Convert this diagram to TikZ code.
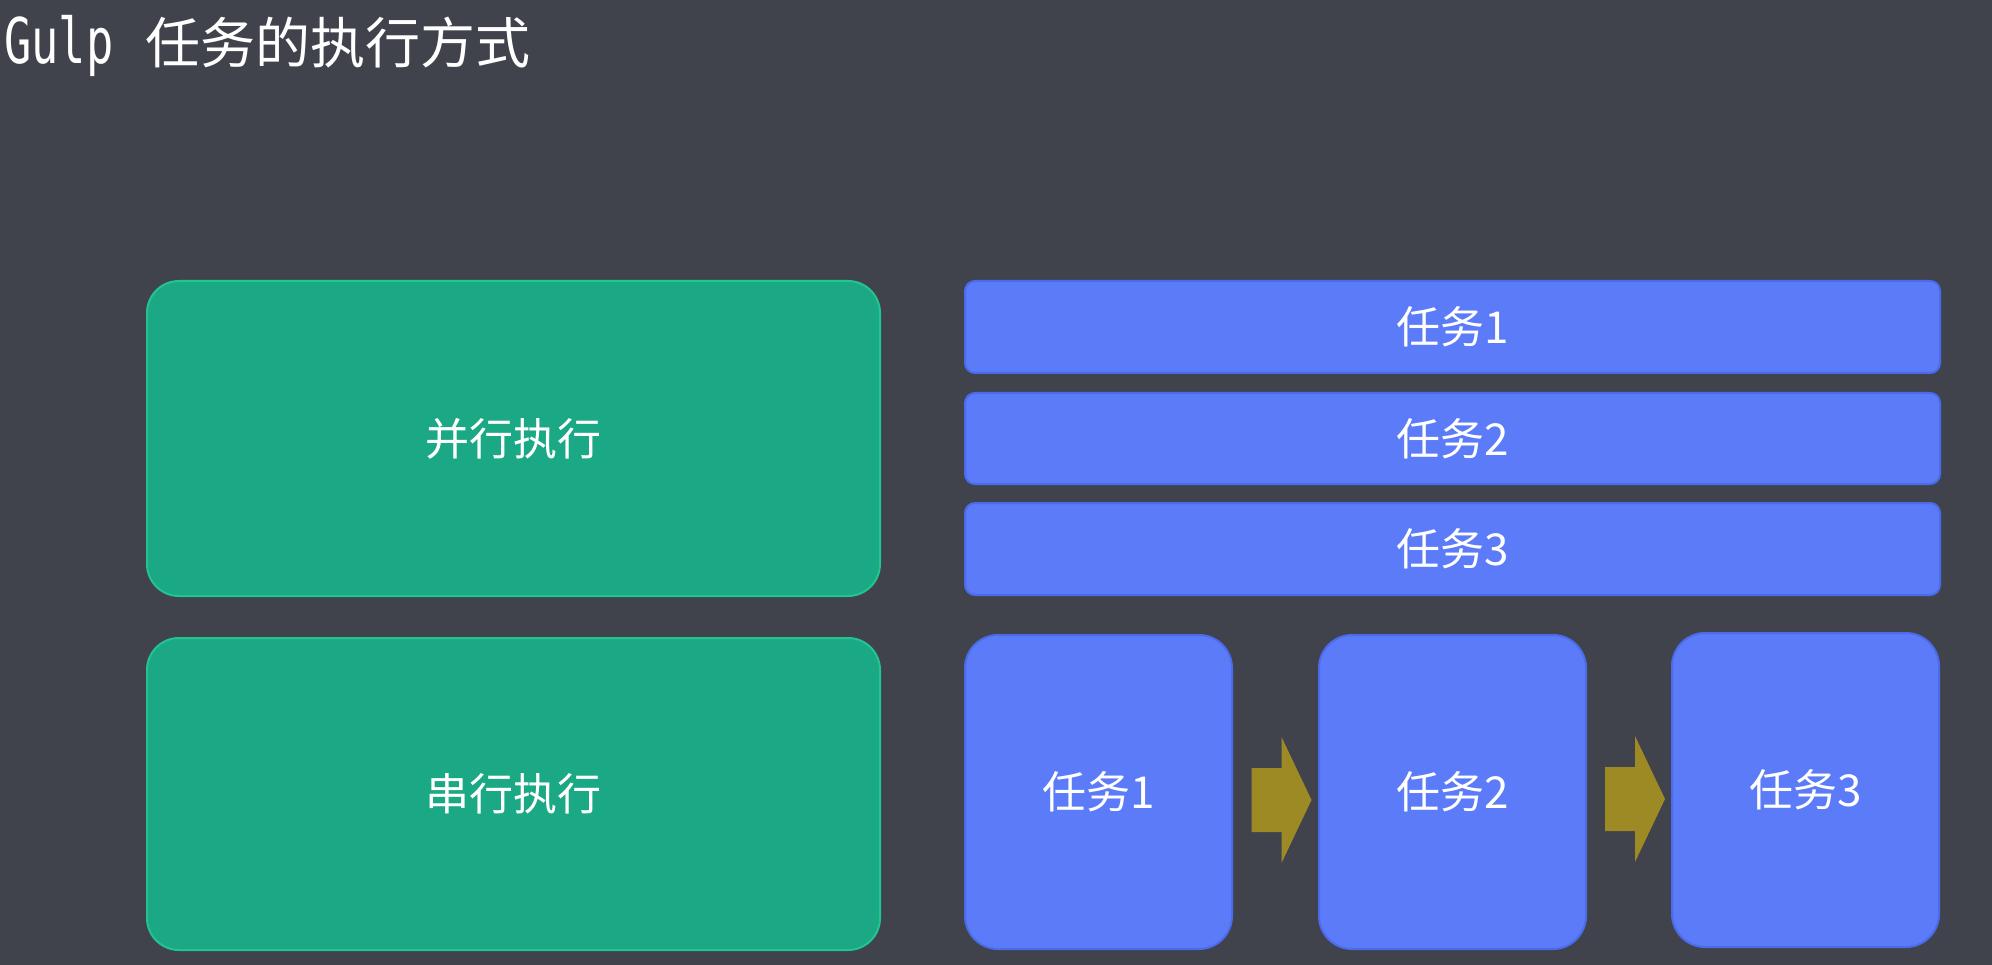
\documentclass[tikz,border=0pt]{standalone}
\usepackage{fontspec}
\usetikzlibrary{calc}
\setmainfont{Noto Sans CJK SC}
\newfontfamily\cjkfont{Noto Sans CJK SC}
\newfontfamily\titlemono[FakeStretch=0.72]{DejaVu Sans Mono}
\definecolor{bgc}{HTML}{40434C}
\definecolor{greenfill}{HTML}{1BA884}
\definecolor{greenline}{HTML}{22C490}
\definecolor{bluefill}{HTML}{5B7BF9}
\definecolor{blueline}{HTML}{4C6BEB}
\definecolor{arrowc}{HTML}{9E8A24}
\tikzset{
  box/.style={anchor=north west, inner sep=0pt, outer sep=0pt, line width=2pt, text=white, font=\cjkfont\fontsize{44}{50}\selectfont},
  greenbox/.style={box, fill=greenfill, draw=greenline, rounded corners=32pt},
  bar/.style={box, fill=bluefill, draw=blueline, rounded corners=10pt, minimum width=975pt, minimum height=92pt},
  sbox/.style={box, fill=bluefill, draw=blueline, rounded corners=33pt, minimum width=267pt, minimum height=314pt},
}
\begin{document}
\begin{tikzpicture}[x=1pt,y=-1pt]
\fill[bgc] (0,0) rectangle (1992,965);
\useasboundingbox (0,0) rectangle (1992,965);
\node[anchor=west, inner sep=0pt, text=white] (title) at (4,46)
  {{\titlemono\fontsize{63}{70}\selectfont Gulp}\hspace{32pt}{\cjkfont\fontsize{55}{60}\selectfont 任务的执行方式}};
\node[greenbox, minimum width=733pt, minimum height=315pt] (par) at (147,281) {并行执行};
\node[greenbox, minimum width=733pt, minimum height=312pt] (ser) at (147,638) {串行执行};
\node[bar] (p1) at (965,281) {任务1};
\node[bar, minimum height=91pt] (p2) at (965,393) {任务2};
\node[bar] (p3) at (965,503) {任务3};
\node[sbox] (s1) at (965,635) {任务1};
\node[sbox] (s2) at (1319,635) {任务2};
\node[sbox] (s3) at (1672,633) {任务3};
\coordinate (a1) at ($(s1.east)!0.5!(s2.west)+(0,8)$);
\coordinate (a2) at ($(s2.east)!0.5!(s3.west)+(0,8)$);
\foreach \a in {a1,a2}{
  \fill[arrowc] ($(\a)+(-24,-32)$) -- ($(\a)+(6,-32)$) -- ($(\a)+(6,-63)$) -- ($(\a)+(36,0)$)
    -- ($(\a)+(6,63)$) -- ($(\a)+(6,32)$) -- ($(\a)+(-24,32)$) -- cycle;
}
\end{tikzpicture}
\end{document}
